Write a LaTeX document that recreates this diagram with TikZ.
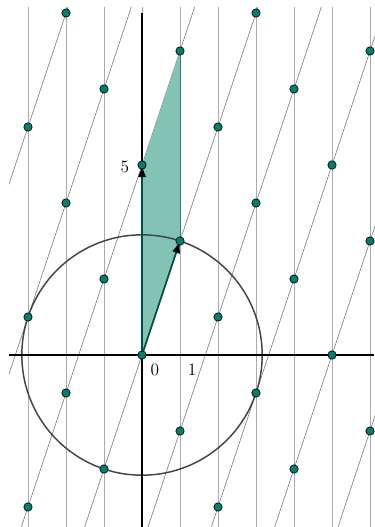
\documentclass[tikz,border=0pt]{standalone}
\usetikzlibrary{arrows.meta}
\definecolor{ptc}{RGB}{0,128,110}
\definecolor{shadec}{RGB}{130,195,182}
\definecolor{vecc}{RGB}{0,78,68}
\definecolor{circc}{RGB}{68,68,68}
\begin{document}
\begin{tikzpicture}[x=1cm,y=1cm,
 vline/.style={draw=black!33, line width=0.6pt},
 sline/.style={draw=black!55, line width=0.4pt},
 axisline/.style={line width=1.3pt, draw=black},
 circline/.style={draw=circc, line width=1.1pt},
 vecline/.style={draw=vecc, line width=1.3pt, -{Latex[length=3.2mm,width=2.2mm,black]}},
 lat/.style={circle, draw=black, fill=ptc, inner sep=0pt, minimum size=2.2mm, line width=0.5pt},
 lab/.style={font=\fontsize{13}{15}\selectfont, inner sep=0pt}]
\useasboundingbox (-3.737,-4.526) rectangle (6.105,9.342);
\coordinate (O) at (0,0);
\coordinate (A) at (1,3);
\coordinate (B) at (0,5);
\coordinate (C) at (1,8);
\coordinate (xl) at (-3.5,0);
\coordinate (xr) at (6.105,0);
\coordinate (yb) at (0,-4.526);
\coordinate (yt) at (0,9);
\begin{scope}
\clip (-3.5,-4.6) rectangle (6.2,9.16);
\foreach \x in {-3,...,6} \draw[vline] (\x,-4.6) -- (\x,9.16);
\foreach \n in {-8,...,3} \draw[sline] ({(-4.6-5*\n)/3},-4.6) -- ({(9.16-5*\n)/3},9.16);
\end{scope}
\fill[shadec] (O) -- (A) -- (C) -- (B) -- cycle;
\draw[vline, draw=ptc!60!gray] (A) -- (C);
\draw[circline] (O) circle ({sqrt(10)});
\draw[axisline] (xl) -- (xr);
\draw[axisline] (yb) -- (yt);
\draw[vecline] (O) -- (B);
\draw[vecline] (O) -- (A);
\foreach \m/\y in {-3/-4,-3/1,-3/6,-2/-1,-2/4,-2/9,-1/-3,-1/2,-1/7,0/0,0/5,1/-2,1/3,1/8,2/-4,2/1,2/6,3/-1,3/4,3/9,4/-3,4/2,4/7,5/0,5/5,6/-2,6/3,6/8}
  \node[lat] (p\m\y) at (\m,\y) {};
\node[lab] (l0) at (0.34,-0.38) {0};
\node[lab] (l1) at (1.32,-0.38) {1};
\node[lab] (l5) at (-0.45,4.95) {5};
\end{tikzpicture}
\end{document}
